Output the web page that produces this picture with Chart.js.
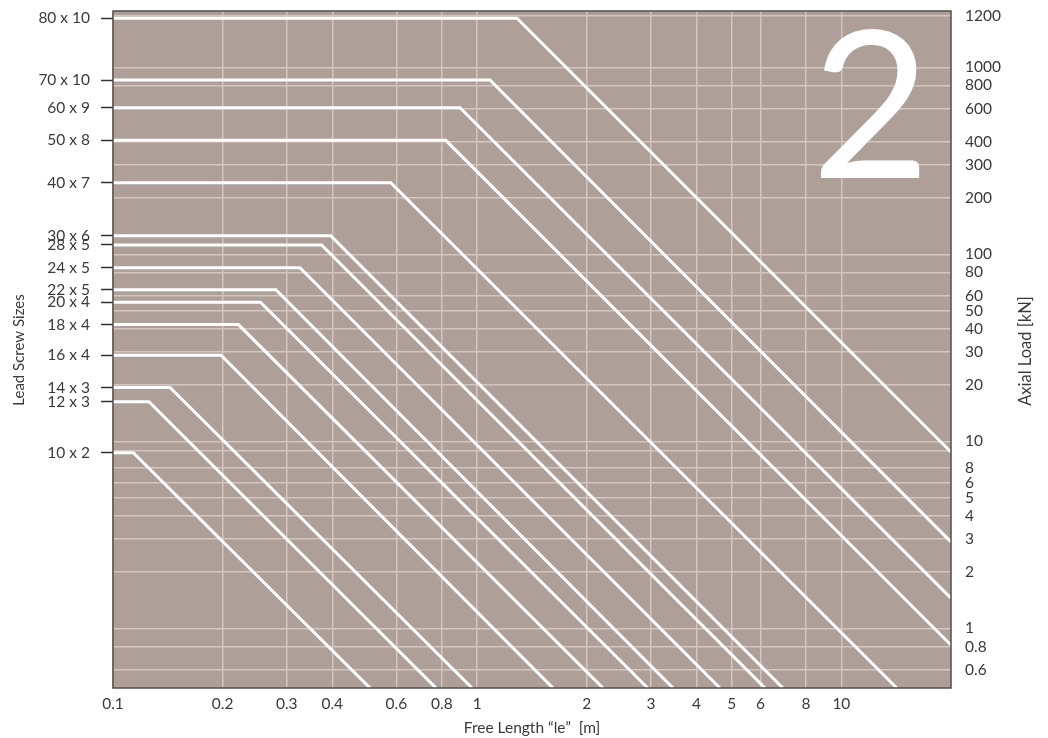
<!DOCTYPE html>
<html>
<head>
<meta charset="utf-8">
<script src="https://cdn.jsdelivr.net/npm/chart.js@4.4.1/dist/chart.umd.min.js"></script>
<style>
  html, body { margin: 0; padding: 0; background: #ffffff; }
  #wrap { width: 1048px; height: 738px; position: relative; }
</style>
</head>
<body>
<div id="wrap"><canvas id="c"></canvas></div>
<script>
// ---- data ----
const sizes = ['80 x 10','70 x 10','60 x 9','50 x 8','40 x 7','30 x 6','28 x 5','24 x 5','22 x 5','20 x 4','18 x 4','16 x 4','14 x 3','12 x 3','10 x 2'];
// plateau load [kN] of each screw
const maxLoad = [1830, 855, 608, 407, 241.5, 125.8, 112.2, 84.8, 64.7, 55.4, 42.1, 28.9, 19.4, 16.3, 8.7];
// free length [m] where the curve starts to fall
const kneeLength = [1.286, 1.084, 0.897, 0.820, 0.579, 0.396, 0.374, 0.326, 0.280, 0.254, 0.221, 0.198, 0.1434, 0.1255, 0.1137];
// last visible point of each curve
const endLength = [20, 20, 20, 20, 14.2, 6.91, 6.17, 4.64, 3.45, 2.94, 2.215, 1.615, 0.968, 0.771, 0.508];
const endLoad = [8.77, 2.90, 1.45, 0.815, 0.48, 0.48, 0.48, 0.48, 0.48, 0.48, 0.48, 0.48, 0.48, 0.48, 0.48];
const startLength = 0.1;

// axis ticks
const lengthTicks = [0.1, 0.2, 0.3, 0.4, 0.6, 0.8, 1, 2, 3, 4, 5, 6, 8, 10];
const lengthTickLabels = ['0.1','0.2','0.3','0.4','0.6','0.8','1','2','3','4','5','6','8','10'];
const loadTicks = [0.6, 0.8, 1, 2, 3, 4, 5, 6, 7.2, 8.9, 10, 20, 30, 40, 50, 60, 80, 100, 200, 300, 400, 600, 800, 1000, 1880];
const loadTickLabels = ['0.6','0.8','1','2','3','4','5','6','8','','10','20','30','40','50','60','80','100','200','300','400','600','800','1000','1200'];

const xMin = 0.1, xMax = 20, yMin = 0.48, yMax = 2000;

const FONT = 'Lato';
const TEXT = '#3a3a3a';
const TICK_FONT = { family: FONT, size: 15.5, weight: '400' };

const datasets = sizes.map((s, i) => ({
  label: s,
  data: [
    { x: startLength, y: maxLoad[i] },
    { x: kneeLength[i], y: maxLoad[i] },
    { x: endLength[i], y: endLoad[i] }
  ],
  borderColor: '#ffffff',
  borderWidth: 3,
  pointRadius: 0,
  tension: 0,
  fill: false,
  yAxisID: 'y'
}));

const noPad = s => { s.paddingTop = 0; s.paddingBottom = 0; s.paddingLeft = 0; s.paddingRight = 0; };

const framePlugin = {
  id: 'frame',
  beforeDraw(chart) {
    const { ctx, chartArea: a } = chart;
    ctx.save();
    ctx.fillStyle = '#ae9f98';
    ctx.fillRect(a.left, a.top, a.right - a.left, a.bottom - a.top);
    ctx.restore();
  },
  afterDatasetsDraw(chart) {
    const { ctx } = chart;
    ctx.save();
    ctx.fillStyle = '#ffffff';
    ctx.font = '400 205px ' + FONT;
    ctx.textAlign = 'center';
    ctx.textBaseline = 'alphabetic';
    ctx.fillText('2', 871, 178);
    ctx.restore();
  },
  afterDraw(chart) {
    const { ctx, chartArea: a } = chart;
    ctx.save();
    ctx.strokeStyle = '#4f4f4f';
    ctx.lineWidth = 1.5;
    ctx.strokeRect(a.left, a.top, a.right - a.left, a.bottom - a.top);
    ctx.fillStyle = TEXT;
    ctx.textAlign = 'center';
    ctx.textBaseline = 'middle';
    ctx.font = '400 15.5px ' + FONT;
    ctx.fillText('Free Length \u201Cle\u201D  [m]', 532, 728);
    ctx.translate(19, 350);
    ctx.rotate(-Math.PI / 2);
    ctx.font = '400 15px ' + FONT;
    ctx.fillText('Lead Screw Sizes', 0, 0);
    ctx.restore();
    ctx.save();
    ctx.fillStyle = TEXT;
    ctx.font = '400 16.5px ' + FONT;
    ctx.textAlign = 'center';
    ctx.textBaseline = 'middle';
    ctx.translate(1026, 351);
    ctx.rotate(-Math.PI / 2);
    ctx.fillText('Axial Load [kN]', 0, 0);
    ctx.restore();
  }
};

new Chart(document.getElementById('c'), {
  type: 'line',
  data: { datasets },
  plugins: [framePlugin],
  options: {
    responsive: true,
    maintainAspectRatio: false,
    animation: false,
    layout: { padding: { top: 11, left: 0, right: 0, bottom: 0 } },
    plugins: { legend: { display: false }, tooltip: { enabled: false } },
    scales: {
      x: {
        type: 'logarithmic',
        min: xMin, max: xMax,
        afterBuildTicks: s => { s.ticks = lengthTicks.map(v => ({ value: v })); },
        afterFit: s => { s.height = 50; noPad(s); },
        ticks: {
          autoSkip: false, maxRotation: 0, minRotation: 0, padding: 7,
          color: TEXT, font: TICK_FONT,
          callback: v => lengthTickLabels[lengthTicks.indexOf(v)]
        },
        grid: { color: '#d4c5be', lineWidth: 1.5, drawTicks: false },
        border: { display: false }
      },
      y: {
        type: 'logarithmic',
        position: 'right',
        min: yMin, max: yMax,
        afterBuildTicks: s => { s.ticks = loadTicks.map(v => ({ value: v })); },
        afterFit: s => { s.width = 97; noPad(s); },
        ticks: {
          autoSkip: false, padding: 14,
          color: TEXT, font: TICK_FONT,
          callback: v => loadTickLabels[loadTicks.indexOf(v)]
        },
        grid: { color: '#d4c5be', lineWidth: 1.5, drawTicks: false },
        border: { display: false }
      },
      yL: {
        type: 'logarithmic',
        position: 'left',
        min: yMin, max: yMax,
        afterBuildTicks: s => { s.ticks = maxLoad.slice().sort((a, b) => a - b).map(v => ({ value: v })); },
        afterFit: s => { s.width = 113; noPad(s); },
        ticks: {
          autoSkip: false, padding: 11,
          color: TEXT, font: TICK_FONT,
          callback: v => sizes[maxLoad.indexOf(v)]
        },
        grid: { drawOnChartArea: false, drawTicks: true, tickLength: 12, tickWidth: 1.5, tickColor: '#333333' },
        border: { display: false }
      }
    }
  }
});
</script>
</body>
</html>
